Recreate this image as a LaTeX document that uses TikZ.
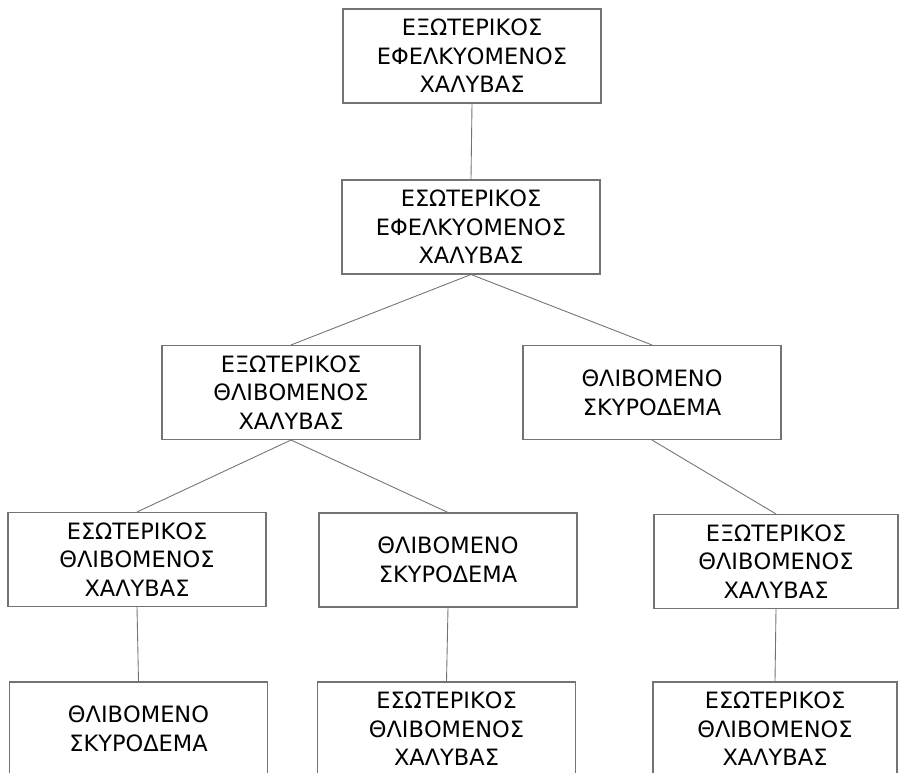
\documentclass[tikz,border=0pt]{standalone}
\usepackage{fontspec}
\setmainfont{DejaVu Sans}
\usepackage{tikz}

\begin{document}
\begin{tikzpicture}[
        box/.style={
                draw=black!55,
                line width=0.6pt,
                rectangle,
                align=center,
                minimum width=5.16cm,
                minimum height=1.88cm,
                inner sep=0pt,
                font=\fontsize{12.8}{16.3}\selectfont
            },
        narrow box/.style={
                box,
                minimum width=4.88cm
            },
        link/.style={
                draw=black!55,
                line width=0.5pt
            }]
        \useasboundingbox (0,0) rectangle (17.98,15.44);
        \clip (0,0) rectangle (17.98,15.44);

        \node [box] (top) at (9.44, 14.32) {ΕΞΩΤΕΡΙΚΟΣ\\ΕΦΕΛΚΥΟΜΕΝΟΣ\\ΧΑΛΥΒΑΣ};
        \node [box] (inner) at (9.42, 10.90) {ΕΣΩΤΕΡΙΚΟΣ\\ΕΦΕΛΚΥΟΜΕΝΟΣ\\ΧΑΛΥΒΑΣ};

        \node [box] (outsteel) at (5.82, 7.59) {ΕΞΩΤΕΡΙΚΟΣ\\ΘΛΙΒΟΜΕΝΟΣ\\ΧΑΛΥΒΑΣ};
        \node [box] (concA) at (13.04, 7.59) {ΘΛΙΒΟΜΕΝΟ\\ΣΚΥΡΟΔΕΜΑ};

        \node [box] (insteelA) at (2.74, 4.25) {ΕΣΩΤΕΡΙΚΟΣ\\ΘΛΙΒΟΜΕΝΟΣ\\ΧΑΛΥΒΑΣ};
        \node [box] (concB) at (8.96, 4.24) {ΘΛΙΒΟΜΕΝΟ\\ΣΚΥΡΟΔΕΜΑ};
        \node [narrow box] (outsteelB) at (15.52, 4.21) {ΕΞΩΤΕΡΙΚΟΣ\\ΘΛΙΒΟΜΕΝΟΣ\\ΧΑΛΥΒΑΣ};

        \node [box] (concC) at (2.77, 0.86) {ΘΛΙΒΟΜΕΝΟ\\ΣΚΥΡΟΔΕΜΑ};
        \node [box] (insteelB) at (8.93, 0.86) {ΕΣΩΤΕΡΙΚΟΣ\\ΘΛΙΒΟΜΕΝΟΣ\\ΧΑΛΥΒΑΣ};
        \node [narrow box] (insteelC) at (15.50, 0.86) {ΕΣΩΤΕΡΙΚΟΣ\\ΘΛΙΒΟΜΕΝΟΣ\\ΧΑΛΥΒΑΣ};

        \draw [link] (top.south) -- (inner.north);
        \draw [link] (inner.south) -- (outsteel.north);
        \draw [link] (inner.south) -- (concA.north);
        \draw [link] (outsteel.south) -- (insteelA.north);
        \draw [link] (outsteel.south) -- (concB.north);
        \draw [link] (concA.south) -- (outsteelB.north);
        \draw [link] (insteelA.south) -- (concC.north);
        \draw [link] (concB.south) -- (insteelB.north);
        \draw [link] (outsteelB.south) -- (insteelC.north);
    \end{tikzpicture}
\end{document}
